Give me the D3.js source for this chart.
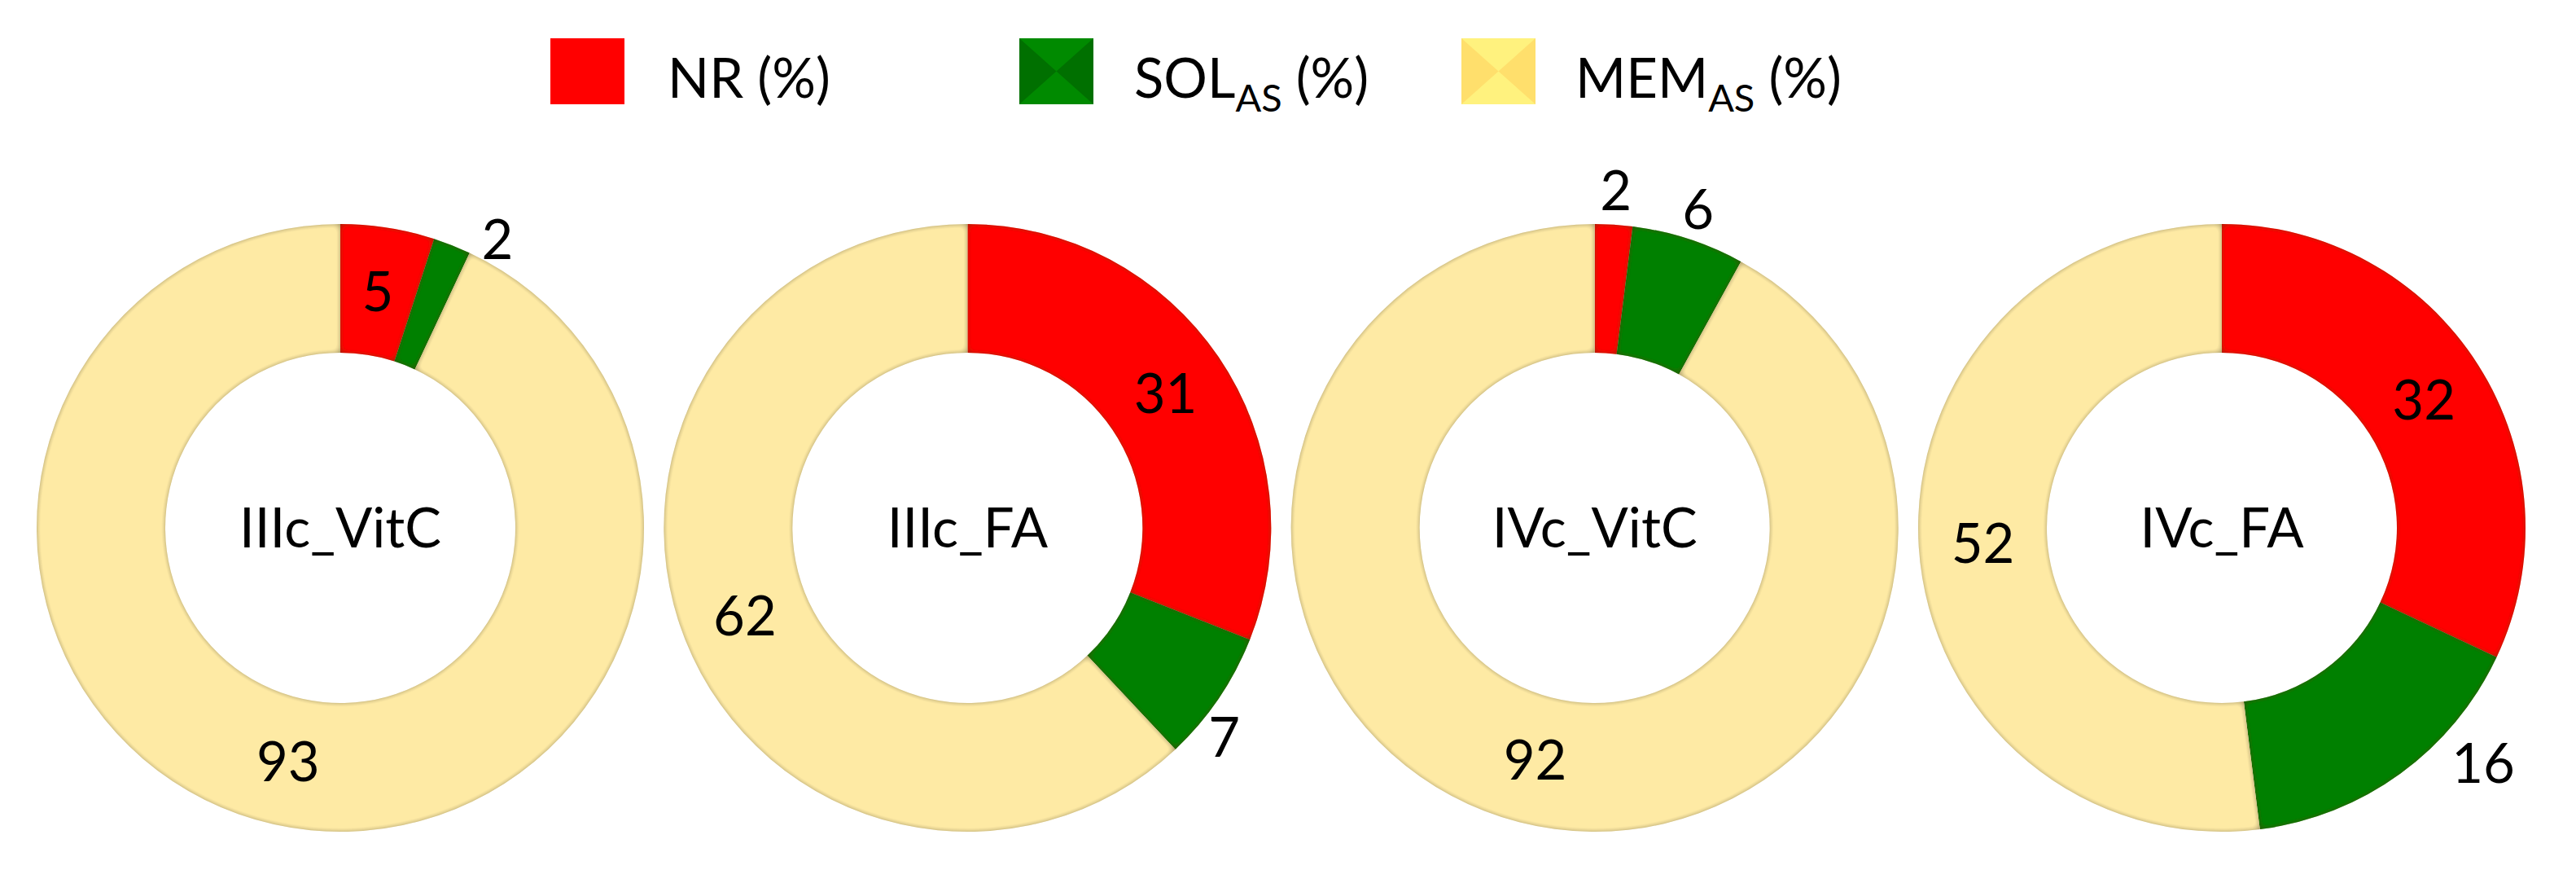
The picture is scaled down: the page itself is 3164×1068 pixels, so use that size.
<!DOCTYPE html>
<html>
<head>
<meta charset="utf-8">
<script src="https://cdn.jsdelivr.net/npm/d3@7"></script>
<style>
  html, body { margin: 0; padding: 0; background: #fff; }
  svg text { font-family: Lato, 'Open Sans', sans-serif; fill: #000; }
</style>
</head>
<body>
<svg id="chart" width="3164" height="1068"></svg>
<script>
// donut data, percent per sample
const SAMPLES = ['IIIc_VitC', 'IIIc_FA', 'IVc_VitC', 'IVc_FA'];
const NR_VALUES = [5, 31, 2, 32];
const SOL_VALUES = [2, 7, 6, 16];
const MEM_VALUES = [93, 62, 92, 52];
const SERIES_KEYS = ['NR', 'SOL', 'MEM'];
const LEGEND_MAIN = ['NR', 'SOL', 'MEM'];
const LEGEND_SUB = ['', 'AS', 'AS'];

(function () {
  const WIDTH = 3164;
  const HEIGHT = 1068;
  const OUTER_R = 373;
  const INNER_R = 215;
  const CENTER_Y = 648;
  const FONT_SIZE = 67;
  const COLORS = { NR: '#ff0000', SOL: '#008000', MEM: '#feeaa4' };
  // labels excel pushed outside the ring: angle nudge (deg) and radius
  const OUTSIDE_LABELS = {
    'IIIc_VitC|SOL': { nudge: 7, r: 403 },
    'IIIc_FA|SOL': { nudge: 5, r: 407 },
    'IVc_VitC|NR': { nudge: 0, r: 415 },
    'IVc_VitC|SOL': { nudge: 0, r: 411 },
    'IVc_FA|SOL': { nudge: -12, r: 432 }
  };
  const LEGEND_X = [676, 1252, 1795];
  const LEGEND_TEXT_X = [820, 1393, 1935];
  const SWATCH_SHADES = {
    SOL: { light: '#008a00', dark: '#007000' },
    MEM: { light: '#fff27e', dark: '#ffdf6c' }
  };

  const svg = d3.select('#chart')
    .attr('viewBox', '0 0 ' + WIDTH + ' ' + HEIGHT);

  function createBevelFilter () {
    let defs = svg.append('defs');
    let filter = defs.append('filter')
      .attr('id', 'bevel')
      .attr('x', '-10%').attr('y', '-10%')
      .attr('width', '120%').attr('height', '120%');
    filter.append('feGaussianBlur')
      .attr('in', 'SourceAlpha')
      .attr('stdDeviation', 5)
      .attr('result', 'blur');
    filter.append('feComponentTransfer')
      .attr('in', 'blur')
      .attr('result', 'inv')
      .append('feFuncA')
      .attr('type', 'linear')
      .attr('slope', -1.4)
      .attr('intercept', 1.2);
    filter.append('feFlood')
      .attr('flood-color', '#2e2400')
      .attr('flood-opacity', 0.7)
      .attr('result', 'flood');
    filter.append('feComposite')
      .attr('in', 'flood')
      .attr('in2', 'inv')
      .attr('operator', 'in')
      .attr('result', 'shade');
    filter.append('feComposite')
      .attr('in', 'shade')
      .attr('in2', 'SourceAlpha')
      .attr('operator', 'in')
      .attr('result', 'shadeIn');
    let merge = filter.append('feMerge');
    merge.append('feMergeNode').attr('in', 'SourceGraphic');
    merge.append('feMergeNode').attr('in', 'shadeIn');
  }

  function buildSampleData (i) {
    return [
      { key: 'NR', value: NR_VALUES[i] },
      { key: 'SOL', value: SOL_VALUES[i] },
      { key: 'MEM', value: MEM_VALUES[i] }
    ];
  }

  const xScale = d3.scalePoint()
    .domain(SAMPLES)
    .range([418, 2729]);

  const pie = d3.pie()
    .value(function (d) { return d.value; })
    .sort(null);

  const arc = d3.arc()
    .innerRadius(INNER_R)
    .outerRadius(OUTER_R);

  function drawDonut (sample, i) {
    let g = svg.append('g')
      .attr('transform', 'translate(' + xScale(sample) + ',' + CENTER_Y + ')');
    let arcs = pie(buildSampleData(i));

    g.selectAll('path')
      .data(arcs)
      .enter()
      .append('path')
      .attr('d', arc)
      .attr('fill', function (d) { return COLORS[d.data.key]; })
      .attr('filter', 'url(#bevel)');

    g.selectAll('text.value')
      .data(arcs)
      .enter()
      .append('text')
      .attr('class', 'value')
      .attr('text-anchor', 'middle')
      .attr('dy', '0.36em')
      .style('font-size', FONT_SIZE + 'px')
      .attr('transform', function (d) {
        let place = OUTSIDE_LABELS[sample + '|' + d.data.key];
        if (!place) {
          return 'translate(' + arc.centroid(d) + ')';
        }
        let angle = (d.startAngle + d.endAngle) / 2 + place.nudge * Math.PI / 180;
        return 'translate(' + (place.r * Math.sin(angle)) + ',' + (-place.r * Math.cos(angle)) + ')';
      })
      .text(function (d) { return d.data.value; });

    g.append('text')
      .attr('text-anchor', 'middle')
      .attr('dy', '0.36em')
      .style('font-size', FONT_SIZE + 'px')
      .text(sample);
  }

  function drawLegendSwatch (key, x) {
    let w = 91;
    let h = 81;
    let y = 47;
    let g = svg.append('g');
    let shades = SWATCH_SHADES[key];
    g.append('rect')
      .attr('x', x).attr('y', y)
      .attr('width', w).attr('height', h)
      .attr('fill', shades ? shades.dark : COLORS[key]);
    if (!shades) return;
    [y, y + h].forEach(function (edgeY) {
      g.append('path')
        .attr('d', 'M' + x + ',' + edgeY + 'L' + (x + w) + ',' + edgeY + 'L' + (x + w / 2) + ',' + (y + h / 2) + 'Z')
        .attr('fill', shades.light);
    });
  }

  function drawLegend () {
    SERIES_KEYS.forEach(function (key, i) {
      drawLegendSwatch(key, LEGEND_X[i]);
      let t = svg.append('text')
        .attr('x', LEGEND_TEXT_X[i])
        .attr('y', 120)
        .style('font-size', FONT_SIZE + 'px');
      t.append('tspan').text(LEGEND_MAIN[i]);
      if (LEGEND_SUB[i]) {
        t.append('tspan')
          .attr('dy', 17)
          .style('font-size', (FONT_SIZE * 0.7) + 'px')
          .text(LEGEND_SUB[i]);
        t.append('tspan')
          .attr('dy', -17)
          .text(' (%)');
      } else {
        t.append('tspan').text(' (%)');
      }
    });
  }

  createBevelFilter();
  drawLegend();
  SAMPLES.forEach(drawDonut);
}());
</script>
</body>
</html>
